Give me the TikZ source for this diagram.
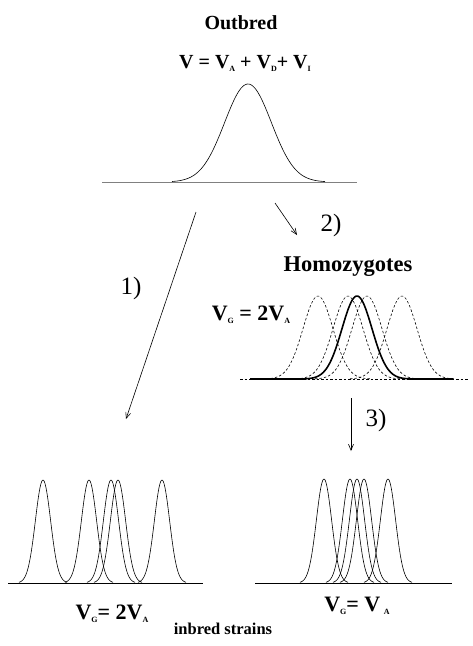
\documentclass[tikz,border=0pt]{standalone}
\usepackage{fontspec}
\setmainfont{Liberation Serif}
\usetikzlibrary{arrows.meta}
\newcommand\lsub[1]{\raisebox{-0.15em}{\fontsize{8}{8}\selectfont #1}}
\begin{document}
\begin{tikzpicture}[x=1pt,y=-1pt,
  curve/.style={line width=0.6pt},
  thickcurve/.style={line width=1.6pt},
  dcurve/.style={line width=0.6pt, dash pattern=on 2.5pt off 2pt},
  arr/.style={line width=0.6pt,-{Straight Barb[length=6pt,width=5pt]}},
  title/.style={font=\fontsize{20}{24}\selectfont\bfseries, inner sep=0pt},
  formula/.style={font=\fontsize{22}{26}\selectfont\bfseries, inner sep=0pt},
  numlab/.style={font=\fontsize{25}{29}\selectfont, inner sep=0pt}]
\useasboundingbox (0,0) rectangle (472,646);
% outbred
\node[title] (outbred) at (241,23) {Outbred};
\node[formula, font=\fontsize{20}{24}\selectfont\bfseries] (vform) at (245,63) {V = V\lsub{A} + V\lsub{D}+ V\lsub{I}};
\draw[gray, line width=0.8pt] (102,182) -- (357,182);
\draw[curve] plot[domain=172:325, samples=90, smooth] (\x, {182-98*exp(-((\x-248)^2)/(2*23.4^2))});
% arrows
\coordinate (a1s) at (196,212);
\coordinate (a1e) at (126,419);
\draw[arr] (a1s) -- (a1e);
\node[numlab] (l1) at (131,288) {1)};
\coordinate (a2s) at (275,203);
\coordinate (a2e) at (297,235);
\draw[arr] (a2s) -- (a2e);
\node[numlab] (l2) at (331,225) {2)};
% homozygotes
\node[title, font=\fontsize{22.5}{26}\selectfont\bfseries] (homo) at (348,267) {Homozygotes};
\node[formula] (vg2) at (251,315) {V\lsub{G} = 2V\lsub{A}};
\draw[dcurve] (240,379) -- (468,379);
\foreach \m in {318,348,367,402}
  \draw[dcurve] plot[domain=\m-52:\m+52, samples=70, smooth] (\x, {379-83*exp(-((\x-\m)^2)/(2*15^2))});
\draw[thickcurve] (250,379) -- (305,379);
\draw[thickcurve] (409,379) -- (453,379);
\draw[thickcurve] plot[domain=305:409, samples=80, smooth] (\x, {379-83*exp(-((\x-357)^2)/(2*15^2))});
\coordinate (a3s) at (351,398);
\coordinate (a3e) at (351,451);
\draw[arr] (a3s) -- (a3e);
\node[numlab] (l3) at (376,420) {3)};
% inbred left
\draw[line width=0.9pt] (8,583) -- (203,583);
\foreach \m in {43,89,111,118,162}
  \draw[curve] plot[domain=\m-24:\m+24, samples=60, smooth] (\x, {583-103*exp(-((\x-\m)^2)/(2*7.6^2))});
% inbred right
\draw[line width=0.9pt] (255,583) -- (452,583);
\foreach \m in {324,350,357,364,388}
  \draw[curve] plot[domain=\m-24:\m+24, samples=60, smooth] (\x, {583-104*exp(-((\x-\m)^2)/(2*7.6^2))});
\node[formula] (vgl) at (112,614) {V\lsub{G}= 2V\lsub{A}};
\node[formula] (vgr) at (357,606) {V\lsub{G}= V\,\lsub{A}};
\node[title, font=\fontsize{16.5}{20}\selectfont\bfseries] (inbred) at (223,629) {inbred strains};
\end{tikzpicture}
\end{document}
